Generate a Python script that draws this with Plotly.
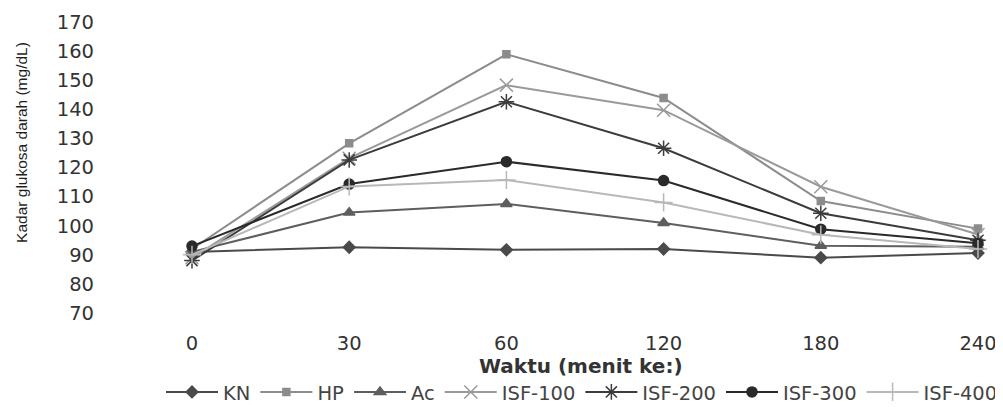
import plotly.graph_objects as go

time_labels = ["0", "30", "60", "120", "180", "240"]
x_index = [0, 1, 2, 3, 4, 5]

kn = [91, 92.6, 91.7, 92, 89, 90.6]
hp = [92, 128.3, 158.9, 143.9, 108.5, 99]
ac = [91, 104.5, 107.5, 100.9, 93.1, 92.8]
isf100 = [89, 123.2, 148.3, 139.7, 113.4, 97]
isf200 = [88, 122.6, 142.6, 126.6, 104.3, 95]
isf300 = [93, 114.3, 122, 115.5, 98.8, 94]
isf400 = [90, 113.5, 115.7, 108, 96.9, 92]

series = [
    ("KN", kn, "#4a4a4a", "diamond", 9),
    ("HP", hp, "#8c8c8c", "square", 7),
    ("Ac", ac, "#5e5e5e", "triangle-up", 10),
    ("ISF-100", isf100, "#9a9a9a", "x-thin-open", 13),
    ("ISF-200", isf200, "#3c3c3c", "asterisk-open", 13),
    ("ISF-300", isf300, "#2a2a2a", "circle", 10),
    ("ISF-400", isf400, "#b8b8b8", "cross-thin-open", 13),
]

fig = go.Figure()
for name, vals, col, sym, sz in series:
    fig.add_trace(go.Scatter(
        x=x_index, y=vals, name=name, mode="lines+markers",
        line=dict(color=col, width=2),
        marker=dict(symbol=sym, size=sz, color=col,
                    line=dict(color=col, width=1.5)),
    ))

# The page body adds an 8px offset, so the figure is sized 8px smaller.
fig.update_layout(
    template="none",
    width=995, height=399,
    margin=dict(l=87, r=0, t=14, b=94, pad=0),
    paper_bgcolor="white", plot_bgcolor="white",
    font=dict(family="DejaVu Sans", color="#333333"),
    showlegend=True,
    legend=dict(orientation="h", x=0.537, xanchor="center",
                yref="container", y=0.037, yanchor="middle",
                font=dict(family="DejaVu Sans", size=19.5, color="#444444"),
                itemwidth=52, tracegroupgap=0, bgcolor="rgba(0,0,0,0)",
                borderwidth=0),
    xaxis=dict(
        range=[-0.617, 5.159], tickmode="array", tickvals=x_index, ticktext=time_labels,
        showgrid=False, zeroline=False, showline=False, ticks="", automargin=False,
        tickfont=dict(family="DejaVu Sans", size=19.5, color="#333333"),
        ticklabelstandoff=16,
    ),
    yaxis=dict(
        range=[70, 170], tickmode="array", tickvals=list(range(70, 171, 10)),
        showgrid=False, zeroline=False, showline=False, ticks="", automargin=False,
        tickfont=dict(family="DejaVu Sans", size=19.5, color="#333333"),
    ),
    annotations=[
        dict(text="Kadar glukosa darah (mg/dL)", textangle=-90,
             xref="paper", yref="paper", x=-0.0804, y=0.588,
             xanchor="center", yanchor="middle", showarrow=False,
             font=dict(family="Liberation Sans", size=15.5, color="#1e1e1e")),
        dict(text="<b>Waktu (menit ke:)</b>",
             xref="paper", yref="paper", x=0.535, y=-0.182,
             xanchor="center", yanchor="middle", showarrow=False,
             font=dict(family="DejaVu Sans", size=20, color="#333333")),
    ],
)

fig.write_html("out.html")
